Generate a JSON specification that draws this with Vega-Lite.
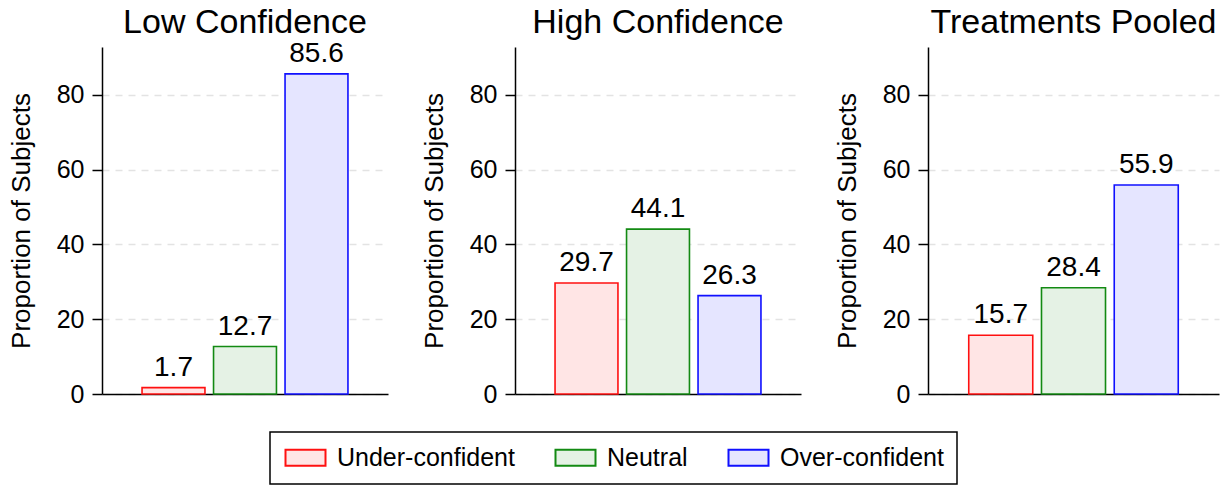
{
  "$schema": "https://vega.github.io/schema/vega-lite/v6.json",
  "padding": {"left": 8, "top": 5, "right": 4, "bottom": 0},
  "background": "white",
  "data": {
    "values": [
      {"panel": "Low Confidence", "category": "Under-confident", "value": 1.7},
      {"panel": "Low Confidence", "category": "Neutral", "value": 12.7},
      {"panel": "Low Confidence", "category": "Over-confident", "value": 85.6},
      {"panel": "High Confidence", "category": "Under-confident", "value": 29.7},
      {"panel": "High Confidence", "category": "Neutral", "value": 44.1},
      {"panel": "High Confidence", "category": "Over-confident", "value": 26.3},
      {"panel": "Treatments Pooled", "category": "Under-confident", "value": 15.7},
      {"panel": "Treatments Pooled", "category": "Neutral", "value": 28.4},
      {"panel": "Treatments Pooled", "category": "Over-confident", "value": 55.9}
    ]
  },
  "spacing": 33,
  "hconcat": [
    {
      "title": {"text": "Low Confidence", "offset": 0},
      "width": 286, "height": 347,
      "transform": [{"filter": "datum.panel === 'Low Confidence'"}],
      "encoding": {
        "x": {"field": "category", "type": "nominal", "sort": ["Under-confident", "Neutral", "Over-confident"],
              "scale": {"paddingInner": 0.12, "paddingOuter": 0.56},
              "axis": {"labels": false, "ticks": false, "title": null, "domainColor": "black", "domainWidth": 1.5}},
        "y": {"field": "value", "type": "quantitative", "scale": {"domain": [0, 92.8], "nice": false},
              "axis": {"title": "Proportion of Subjects", "values": [0, 20, 40, 60, 80], "labelFontSize": 25}}
      },
      "layer": [
        {"mark": {"type": "bar", "strokeWidth": 1.6},
         "encoding": {
           "color": {"field": "category", "type": "nominal", "title": null,
                     "scale": {"domain": ["Under-confident", "Neutral", "Over-confident"], "range": ["#ffe5e5", "#e5f2e5", "#e5e5ff"]}},
           "stroke": {"field": "category", "type": "nominal", "title": null,
                      "scale": {"domain": ["Under-confident", "Neutral", "Over-confident"], "range": ["#ff1010", "#138a13", "#1010ff"]}}
         }},
        {"mark": {"type": "text", "baseline": "alphabetic", "dy": -12, "fontSize": 28, "font": "Liberation Sans", "color": "black"},
         "encoding": {"text": {"field": "value", "type": "quantitative", "format": ".1f"}}}
      ]
    },
    {
      "title": {"text": "High Confidence", "offset": 7},
      "width": 286, "height": 347,
      "transform": [{"filter": "datum.panel === 'High Confidence'"}],
      "encoding": {
        "x": {"field": "category", "type": "nominal", "sort": ["Under-confident", "Neutral", "Over-confident"],
              "scale": {"paddingInner": 0.12, "paddingOuter": 0.56},
              "axis": {"labels": false, "ticks": false, "title": null, "domainColor": "black", "domainWidth": 1.5}},
        "y": {"field": "value", "type": "quantitative", "scale": {"domain": [0, 92.8], "nice": false},
              "axis": {"title": "Proportion of Subjects", "values": [0, 20, 40, 60, 80], "labelFontSize": 25}}
      },
      "layer": [
        {"mark": {"type": "bar", "strokeWidth": 1.6},
         "encoding": {
           "color": {"field": "category", "type": "nominal", "title": null,
                     "scale": {"domain": ["Under-confident", "Neutral", "Over-confident"], "range": ["#ffe5e5", "#e5f2e5", "#e5e5ff"]}},
           "stroke": {"field": "category", "type": "nominal", "title": null,
                      "scale": {"domain": ["Under-confident", "Neutral", "Over-confident"], "range": ["#ff1010", "#138a13", "#1010ff"]}}
         }},
        {"mark": {"type": "text", "baseline": "alphabetic", "dy": -12, "fontSize": 28, "font": "Liberation Sans", "color": "black"},
         "encoding": {"text": {"field": "value", "type": "quantitative", "format": ".1f"}}}
      ]
    },
    {
      "title": {"text": "Treatments Pooled", "offset": 7},
      "width": 291, "height": 347,
      "transform": [{"filter": "datum.panel === 'Treatments Pooled'"}],
      "encoding": {
        "x": {"field": "category", "type": "nominal", "sort": ["Under-confident", "Neutral", "Over-confident"],
              "scale": {"paddingInner": 0.12, "paddingOuter": 0.56},
              "axis": {"labels": false, "ticks": false, "title": null, "domainColor": "black", "domainWidth": 1.5}},
        "y": {"field": "value", "type": "quantitative", "scale": {"domain": [0, 92.8], "nice": false},
              "axis": {"title": "Proportion of Subjects", "values": [0, 20, 40, 60, 80], "labelFontSize": 25}}
      },
      "layer": [
        {"mark": {"type": "bar", "strokeWidth": 1.6},
         "encoding": {
           "color": {"field": "category", "type": "nominal", "title": null,
                     "scale": {"domain": ["Under-confident", "Neutral", "Over-confident"], "range": ["#ffe5e5", "#e5f2e5", "#e5e5ff"]}},
           "stroke": {"field": "category", "type": "nominal", "title": null,
                      "scale": {"domain": ["Under-confident", "Neutral", "Over-confident"], "range": ["#ff1010", "#138a13", "#1010ff"]}}
         }},
        {"mark": {"type": "text", "baseline": "alphabetic", "dy": -12, "fontSize": 28, "font": "Liberation Sans", "color": "black"},
         "encoding": {"text": {"field": "value", "type": "quantitative", "format": ".1f"}}}
      ]
    }
  ],
  "config": {
    "font": "Liberation Sans",
    "view": {"stroke": null},
    "title": {"fontSize": 34, "fontWeight": "normal", "color": "black", "anchor": "middle", "font": "Liberation Sans"},
    "axisY": {
      "labelFontSize": 25, "labelColor": "black", "labelPadding": 8, "labelFont": "Liberation Sans",
      "titleFontSize": 26, "titleFontWeight": "normal", "titleColor": "black", "titlePadding": 22, "titleFont": "Liberation Sans",
      "tickSize": 10, "tickColor": "black", "tickWidth": 1.5,
      "domainColor": "black", "domainWidth": 1.5,
      "grid": true, "gridDash": [7, 6], "gridColor": "#e3e3e3", "gridWidth": 1.5
    },
    "axisX": {"grid": false},
    "legend": {
      "orient": "bottom", "direction": "horizontal", "offset": 25,
      "strokeColor": "black", "strokeWidth": 1.5, "padding": 13,
      "labelFontSize": 25, "labelColor": "black", "labelFont": "Liberation Sans", "labelLimit": 400,
      "symbolType": "M-1,-0.8L3,-0.8L3,0.8L-1,0.8Z", "symbolSize": 400, "symbolStrokeWidth": 2,
      "labelOffset": 29, "columnPadding": 36,
      "layout": {"bottom": {"anchor": "middle"}}
    }
  }
}
